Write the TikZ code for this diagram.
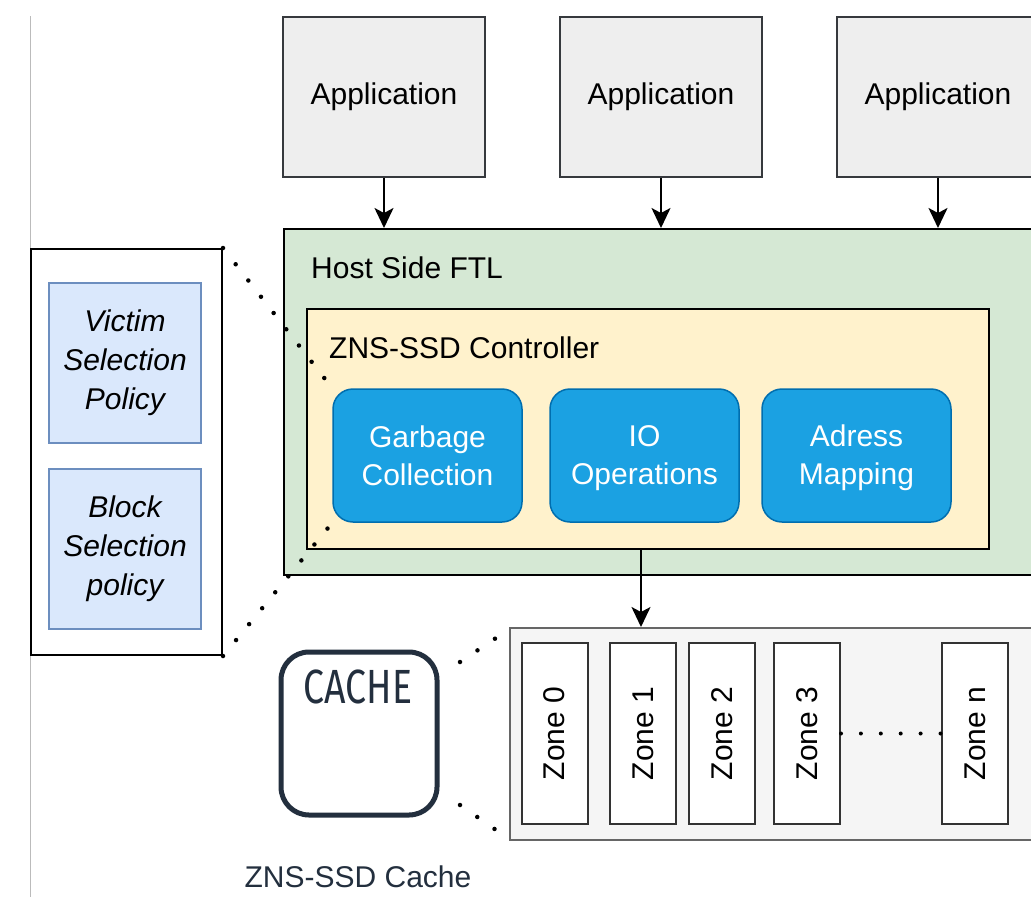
\documentclass[tikz,border=0pt]{standalone}
\usepackage{fontspec}
\setmainfont{Liberation Sans}
\newfontfamily\cachefont{Fira Sans}
\usetikzlibrary{arrows.meta}
\definecolor{appfill}{HTML}{EEEEEE}
\definecolor{appline}{HTML}{36393D}
\definecolor{ftlfill}{HTML}{D5E8D4}
\definecolor{ctrlfill}{HTML}{FFF2CC}
\definecolor{bluefill}{HTML}{1BA1E2}
\definecolor{blueline}{HTML}{006EAF}
\definecolor{polfill}{HTML}{DAE8FC}
\definecolor{polline}{HTML}{6C8EBF}
\definecolor{contfill}{HTML}{F5F5F5}
\definecolor{contline}{HTML}{666666}
\definecolor{zoneline}{HTML}{333333}
\definecolor{cacheline}{HTML}{232F3E}
\definecolor{edgegray}{HTML}{BBBBBB}
\begin{document}
\begin{tikzpicture}[x=1pt,y=-1pt,
  txt/.style={font=\fontsize{30}{38}\selectfont},
  box/.style={rectangle, inner sep=0pt, line width=2pt, align=center, txt},
  appbox/.style={box, fill=appfill, draw=appline, minimum width=202pt, minimum height=160pt},
  ftlbox/.style={box, fill=ftlfill, draw=black},
  ctrlbox/.style={box, fill=ctrlfill, draw=black},
  bluebox/.style={box, fill=bluefill, draw=blueline, line width=1.5pt, rounded corners=20pt, text=white, minimum width=189pt, minimum height=133pt},
  polbox/.style={box, fill=polfill, draw=polline, minimum width=152pt, minimum height=160pt, font=\fontsize{30}{39}\selectfont\itshape},
  leftbox/.style={box, fill=white, draw=black},
  contbox/.style={box, fill=contfill, draw=contline},
  zonebox/.style={box, fill=white, draw=zoneline, rotate=90, minimum width=181pt, minimum height=66pt},
  cachebox/.style={box, fill=white, draw=cacheline, line width=5pt, rounded corners=28pt},
  arr/.style={line width=2pt, -{Stealth[length=20pt,width=19pt,inset=5pt]}},
  dots/.style={line width=4.5pt, line cap=round, dash pattern=on 0pt off 20.6pt}
]
\useasboundingbox (0,0) rectangle (1031,897);
\clip (0,0) rectangle (1031,897);
\fill[white] (0,0) rectangle (1031,897);

% faint page edge
\coordinate (edgetop) at (30,16);
\coordinate (edgebot) at (30,897);
\draw[edgegray, line width=1pt] (edgetop) -- (edgebot);

% applications
\node[appbox] (app1) at (384,97) {Application};
\node[appbox] (app2) at (661,97) {Application};
\node[appbox] (app3) at (938,97) {Application};

% host side FTL
\node[ftlbox, minimum width=780pt, minimum height=346pt] (ftl) at (674,402) {};
\node[txt, anchor=west, inner sep=0pt] (ftllabel) at (311,268) {Host Side FTL};

% controller
\node[ctrlbox, minimum width=682pt, minimum height=240pt] (ctrl) at (648,429) {};
\node[txt, anchor=west, inner sep=0pt] (ctrllabel) at (329,348) {ZNS-SSD Controller};

% blue modules
\node[bluebox] (gc) at (427.5,455.5) {Garbage\\Collection};
\node[bluebox] (io) at (644.5,455.5) {IO\strut\\Operations};
\node[bluebox] (am) at (856.5,455.5) {Adress\strut\\Mapping};

% left policy panel
\node[leftbox, minimum width=191pt, minimum height=406pt] (lbox) at (126.5,452) {};
\node[polbox] (victim) at (125,363) {Victim\\Selection\\Policy};
\node[polbox] (block) at (125,549) {Block\\Selection\\policy};

% zones container
\node[contbox, minimum width=560pt, minimum height=212pt] (zones) at (790,734) {};
\node[zonebox] (z0) at (554.5,733.5) {Zone 0};
\node[zonebox] (z1) at (643,733.5) {Zone 1};
\node[zonebox] (z2) at (722,733.5) {Zone 2};
\node[zonebox] (z3) at (807,733.5) {Zone 3};
\node[zonebox] (zn) at (975,733.5) {Zone n};
\draw[line width=4pt, line cap=round, dash pattern=on 0pt off 19.9pt] (z3.south) -- (zn.north);

% cache
\node[cachebox, minimum width=156pt, minimum height=163pt] (cache) at (359,733.5) {};
\node[inner sep=0pt, text=cacheline] (cachetext) at (358,687) {\scalebox{0.78}[1]{\cachefont\fontsize{48}{48}\selectfont CACHE}};
\node[font=\fontsize{30}{36}\selectfont, text=cacheline, inner sep=0pt] (cachelabel) at (358,877) {ZNS-SSD Cache};

% arrows
\draw[arr] (app1.south) -- (app1.south |- ftl.north);
\draw[arr] (app2.south) -- (app2.south |- ftl.north);
\draw[arr] (app3.south) -- (app3.south |- ftl.north);
\draw[arr] (641,549) coordinate (ioout) -- (ioout |- zones.north);

% zoom dotted lines
\draw[dots] (lbox.north east) -- (gc.north west);
\draw[dots] (lbox.south east) -- (gc.south west);
\coordinate (ca1) at (460,662);
\coordinate (ca2) at (496,638);
\coordinate (cb1) at (460,805);
\coordinate (cb2) at (496,830);
\draw[line width=4.5pt, line cap=round, dash pattern=on 0pt off 21pt] (ca1) -- (ca2);
\draw[line width=4.5pt, line cap=round, dash pattern=on 0pt off 21pt] (cb1) -- (cb2);
\end{tikzpicture}
\end{document}
